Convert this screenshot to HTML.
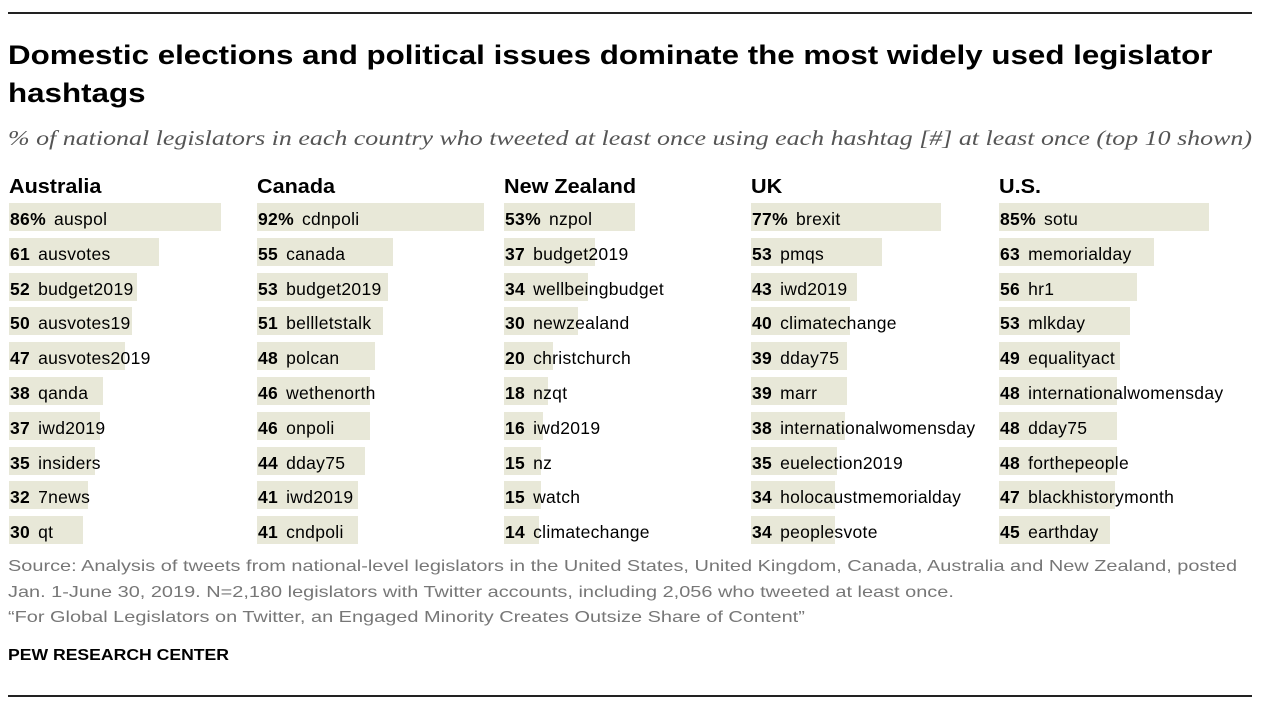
<!DOCTYPE html>
<html><head><meta charset="utf-8">
<style>
body{margin:0;width:1266px;height:714px;background:#fff;font-family:"Liberation Sans",sans-serif;position:relative;overflow:hidden;color:#000}
.rule{position:absolute;left:8px;width:1244px;height:2px;background:#222}
#title{position:absolute;left:8px;top:36px;font-size:27px;font-weight:bold;line-height:38px;width:1060px;transform:scaleX(1.16);transform-origin:left top}
#sub{position:absolute;left:8px;top:126px;font-family:"Liberation Serif",serif;font-style:italic;font-size:21px;color:#555;white-space:nowrap;transform:scaleX(1.235);transform-origin:left top}
.hdr{position:absolute;top:176px;font-size:20px;font-weight:bold;transform:scaleX(1.08);transform-origin:left top}
.bar{position:absolute;height:28px;background:#e8e8d8}
.lab{position:absolute;font-size:17.5px;line-height:28px;white-space:nowrap;letter-spacing:0.3px}
.lab b{margin-right:8px}
.foot{position:absolute;left:8px;font-size:16px;color:#777;line-height:25.5px;white-space:nowrap;transform:scaleX(1.245);transform-origin:left top}
#pew{position:absolute;left:8px;top:647px;font-size:16px;font-weight:bold;transform:scaleX(1.1);transform-origin:left top}
</style></head><body>
<div class="rule" style="top:12px"></div>
<div id="title">Domestic elections and political issues dominate the most widely used legislator hashtags</div>
<div id="sub">% of national legislators in each country who tweeted at least once using each hashtag [#] at least once (top 10 shown)</div>
<div id="chart"></div>
<div class="foot" style="top:554px">Source: Analysis of tweets from national-level legislators in the United States, United Kingdom, Canada, Australia and New Zealand, posted<br>Jan. 1-June 30, 2019. N=2,180 legislators with Twitter accounts, including 2,056 who tweeted at least once.<br>“For Global Legislators on Twitter, an Engaged Minority Creates Outsize Share of Content”</div>
<div id="pew">PEW RESEARCH CENTER</div>
<div class="rule" style="top:695px"></div>
<script>
const countries=["Australia","Canada","New Zealand","UK","U.S."];
const tags=[
["auspol","ausvotes","budget2019","ausvotes19","ausvotes2019","qanda","iwd2019","insiders","7news","qt"],
["cdnpoli","canada","budget2019","bellletstalk","polcan","wethenorth","onpoli","dday75","iwd2019","cndpoli"],
["nzpol","budget2019","wellbeingbudget","newzealand","christchurch","nzqt","iwd2019","nz","watch","climatechange"],
["brexit","pmqs","iwd2019","climatechange","dday75","marr","internationalwomensday","euelection2019","holocaustmemorialday","peoplesvote"],
["sotu","memorialday","hr1","mlkday","equalityact","internationalwomensday","dday75","forthepeople","blackhistorymonth","earthday"]];
const values=[
[86,61,52,50,47,38,37,35,32,30],
[92,55,53,51,48,46,46,44,41,41],
[53,37,34,30,20,18,16,15,15,14],
[77,53,43,40,39,39,38,35,34,34],
[85,63,56,53,49,48,48,48,47,45]];
const colX=[9,257,504,751,999];
const x=v=>v*2.465;
const y=i=>203+i*34.8;
const c=document.getElementById('chart');
countries.forEach((n,ci)=>{
  const h=document.createElement('div');h.className='hdr';h.textContent=n;
  h.style.left=colX[ci]+'px';
  
  
  c.appendChild(h);
  values[ci].forEach((v,i)=>{
    const b=document.createElement('div');b.className='bar';
    b.style.left=colX[ci]+'px';b.style.top=y(i)+'px';b.style.width=x(v)+'px';
    
    
    c.appendChild(b);
    const l=document.createElement('div');l.className='lab';
    l.style.left=(colX[ci]+1)+'px';l.style.top=(y(i)+2)+'px';
    l.innerHTML='<b>'+v+(i===0?'%':'')+'</b>'+tags[ci][i];
    
    
    c.appendChild(l);
  });
});
</script>
</body></html>
